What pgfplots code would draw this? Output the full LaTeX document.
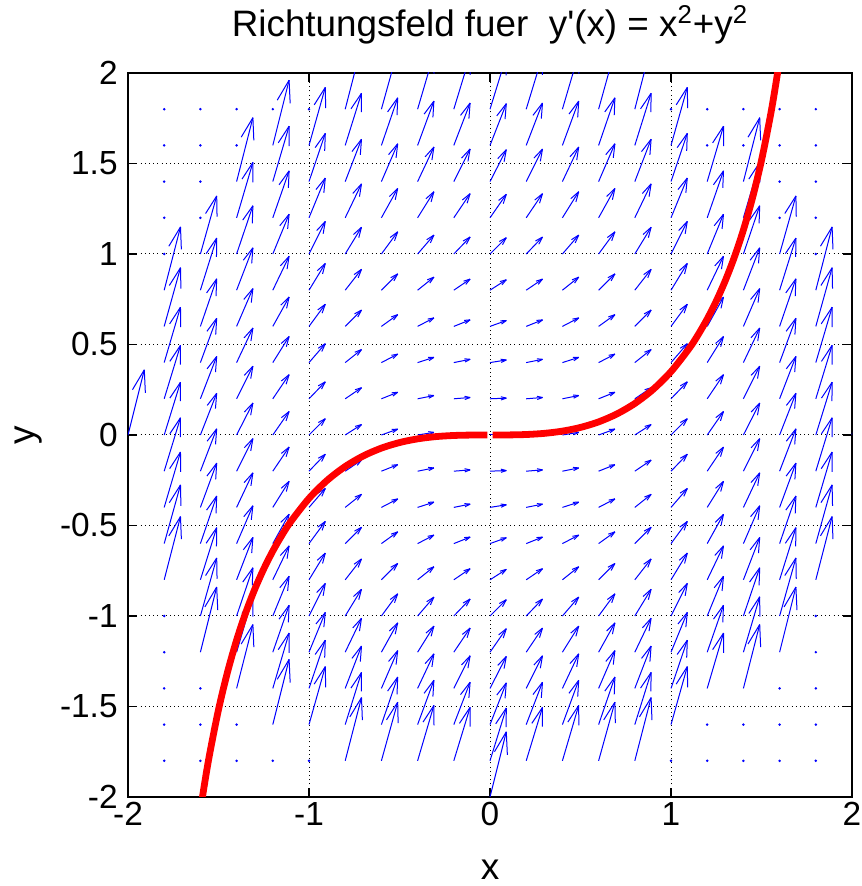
\documentclass[border=0pt]{standalone}
\usepackage{fontspec}
\setmainfont{Liberation Sans}
\usepackage{pgfplots}
\usepackage{pgfplotstable}
\pgfplotsset{compat=1.18}

% direction field: grid points (x,y) and slope f = y'(x) at that point
\pgfplotstableread[row sep=\\]{
x y f\\
-2 0 4\\
-1.8 -0.8 3.88\\ -1.8 -0.6 3.6\\ -1.8 -0.4 3.4\\ -1.8 -0.2 3.28\\ -1.8 0 3.24\\ -1.8 0.2 3.28\\ -1.8 0.4 3.4\\ -1.8 0.6 3.6\\ -1.8 0.8 3.88\\
-1.6 -1.2 4\\ -1.6 -1 3.56\\ -1.6 -0.8 3.2\\ -1.6 -0.6 2.92\\ -1.6 -0.4 2.72\\ -1.6 -0.2 2.6\\ -1.6 0 2.56\\ -1.6 0.2 2.6\\ -1.6 0.4 2.72\\ -1.6 0.6 2.92\\ -1.6 0.8 3.2\\ -1.6 1 3.56\\
-1.4 -1.4 3.92\\ -1.4 -1.2 3.4\\ -1.4 -1 2.96\\ -1.4 -0.8 2.6\\ -1.4 -0.6 2.32\\ -1.4 -0.4 2.12\\ -1.4 -0.2 2\\ -1.4 0 1.96\\ -1.4 0.2 2\\ -1.4 0.4 2.12\\ -1.4 0.6 2.32\\ -1.4 0.8 2.6\\ -1.4 1 2.96\\ -1.4 1.2 3.4\\ -1.4 1.4 3.92\\
-1.2 -1.6 4\\ -1.2 -1.4 3.4\\ -1.2 -1.2 2.88\\ -1.2 -1 2.44\\ -1.2 -0.8 2.08\\ -1.2 -0.6 1.8\\ -1.2 -0.4 1.6\\ -1.2 -0.2 1.48\\ -1.2 0 1.44\\ -1.2 0.2 1.48\\ -1.2 0.4 1.6\\ -1.2 0.6 1.8\\ -1.2 0.8 2.08\\ -1.2 1 2.44\\ -1.2 1.2 2.88\\ -1.2 1.4 3.4\\ -1.2 1.6 4\\
-1 -1.6 3.56\\ -1 -1.4 2.96\\ -1 -1.2 2.44\\ -1 -1 2\\ -1 -0.8 1.64\\ -1 -0.6 1.36\\ -1 -0.4 1.16\\ -1 -0.2 1.04\\ -1 0 1\\ -1 0.2 1.04\\ -1 0.4 1.16\\ -1 0.6 1.36\\ -1 0.8 1.64\\ -1 1 2\\ -1 1.2 2.44\\ -1 1.4 2.96\\ -1 1.6 3.56\\
-0.8 -1.8 3.88\\ -0.8 -1.6 3.2\\ -0.8 -1.4 2.6\\ -0.8 -1.2 2.08\\ -0.8 -1 1.64\\ -0.8 -0.8 1.28\\ -0.8 -0.6 1\\ -0.8 -0.4 0.8\\ -0.8 -0.2 0.68\\ -0.8 0 0.64\\ -0.8 0.2 0.68\\ -0.8 0.4 0.8\\ -0.8 0.6 1\\ -0.8 0.8 1.28\\ -0.8 1 1.64\\ -0.8 1.2 2.08\\ -0.8 1.4 2.6\\ -0.8 1.6 3.2\\ -0.8 1.8 3.88\\
-0.6 -1.8 3.6\\ -0.6 -1.6 2.92\\ -0.6 -1.4 2.32\\ -0.6 -1.2 1.8\\ -0.6 -1 1.36\\ -0.6 -0.8 1\\ -0.6 -0.6 0.72\\ -0.6 -0.4 0.52\\ -0.6 -0.2 0.4\\ -0.6 0 0.36\\ -0.6 0.2 0.4\\ -0.6 0.4 0.52\\ -0.6 0.6 0.72\\ -0.6 0.8 1\\ -0.6 1 1.36\\ -0.6 1.2 1.8\\ -0.6 1.4 2.32\\ -0.6 1.6 2.92\\ -0.6 1.8 3.6\\
-0.4 -1.8 3.4\\ -0.4 -1.6 2.72\\ -0.4 -1.4 2.12\\ -0.4 -1.2 1.6\\ -0.4 -1 1.16\\ -0.4 -0.8 0.8\\ -0.4 -0.6 0.52\\ -0.4 -0.4 0.32\\ -0.4 -0.2 0.2\\ -0.4 0 0.16\\ -0.4 0.2 0.2\\ -0.4 0.4 0.32\\ -0.4 0.6 0.52\\ -0.4 0.8 0.8\\ -0.4 1 1.16\\ -0.4 1.2 1.6\\ -0.4 1.4 2.12\\ -0.4 1.6 2.72\\ -0.4 1.8 3.4\\
-0.2 -1.8 3.28\\ -0.2 -1.6 2.6\\ -0.2 -1.4 2\\ -0.2 -1.2 1.48\\ -0.2 -1 1.04\\ -0.2 -0.8 0.68\\ -0.2 -0.6 0.4\\ -0.2 -0.4 0.2\\ -0.2 -0.2 0.08\\ -0.2 0 0.04\\ -0.2 0.2 0.08\\ -0.2 0.4 0.2\\ -0.2 0.6 0.4\\ -0.2 0.8 0.68\\ -0.2 1 1.04\\ -0.2 1.2 1.48\\ -0.2 1.4 2\\ -0.2 1.6 2.6\\ -0.2 1.8 3.28\\
0 -2 4\\ 0 -1.8 3.24\\ 0 -1.6 2.56\\ 0 -1.4 1.96\\ 0 -1.2 1.44\\ 0 -1 1\\ 0 -0.8 0.64\\ 0 -0.6 0.36\\ 0 -0.4 0.16\\ 0 -0.2 0.04\\ 0 0 0\\ 0 0.2 0.04\\ 0 0.4 0.16\\ 0 0.6 0.36\\ 0 0.8 0.64\\ 0 1 1\\ 0 1.2 1.44\\ 0 1.4 1.96\\ 0 1.6 2.56\\ 0 1.8 3.24\\
0.2 -1.8 3.28\\ 0.2 -1.6 2.6\\ 0.2 -1.4 2\\ 0.2 -1.2 1.48\\ 0.2 -1 1.04\\ 0.2 -0.8 0.68\\ 0.2 -0.6 0.4\\ 0.2 -0.4 0.2\\ 0.2 -0.2 0.08\\ 0.2 0 0.04\\ 0.2 0.2 0.08\\ 0.2 0.4 0.2\\ 0.2 0.6 0.4\\ 0.2 0.8 0.68\\ 0.2 1 1.04\\ 0.2 1.2 1.48\\ 0.2 1.4 2\\ 0.2 1.6 2.6\\ 0.2 1.8 3.28\\
0.4 -1.8 3.4\\ 0.4 -1.6 2.72\\ 0.4 -1.4 2.12\\ 0.4 -1.2 1.6\\ 0.4 -1 1.16\\ 0.4 -0.8 0.8\\ 0.4 -0.6 0.52\\ 0.4 -0.4 0.32\\ 0.4 -0.2 0.2\\ 0.4 0 0.16\\ 0.4 0.2 0.2\\ 0.4 0.4 0.32\\ 0.4 0.6 0.52\\ 0.4 0.8 0.8\\ 0.4 1 1.16\\ 0.4 1.2 1.6\\ 0.4 1.4 2.12\\ 0.4 1.6 2.72\\ 0.4 1.8 3.4\\
0.6 -1.8 3.6\\ 0.6 -1.6 2.92\\ 0.6 -1.4 2.32\\ 0.6 -1.2 1.8\\ 0.6 -1 1.36\\ 0.6 -0.8 1\\ 0.6 -0.6 0.72\\ 0.6 -0.4 0.52\\ 0.6 -0.2 0.4\\ 0.6 0 0.36\\ 0.6 0.2 0.4\\ 0.6 0.4 0.52\\ 0.6 0.6 0.72\\ 0.6 0.8 1\\ 0.6 1 1.36\\ 0.6 1.2 1.8\\ 0.6 1.4 2.32\\ 0.6 1.6 2.92\\ 0.6 1.8 3.6\\
0.8 -1.8 3.88\\ 0.8 -1.6 3.2\\ 0.8 -1.4 2.6\\ 0.8 -1.2 2.08\\ 0.8 -1 1.64\\ 0.8 -0.8 1.28\\ 0.8 -0.6 1\\ 0.8 -0.4 0.8\\ 0.8 -0.2 0.68\\ 0.8 0 0.64\\ 0.8 0.2 0.68\\ 0.8 0.4 0.8\\ 0.8 0.6 1\\ 0.8 0.8 1.28\\ 0.8 1 1.64\\ 0.8 1.2 2.08\\ 0.8 1.4 2.6\\ 0.8 1.6 3.2\\ 0.8 1.8 3.88\\
1 -1.6 3.56\\ 1 -1.4 2.96\\ 1 -1.2 2.44\\ 1 -1 2\\ 1 -0.8 1.64\\ 1 -0.6 1.36\\ 1 -0.4 1.16\\ 1 -0.2 1.04\\ 1 0 1\\ 1 0.2 1.04\\ 1 0.4 1.16\\ 1 0.6 1.36\\ 1 0.8 1.64\\ 1 1 2\\ 1 1.2 2.44\\ 1 1.4 2.96\\ 1 1.6 3.56\\
1.2 -1.4 3.4\\ 1.2 -1.2 2.88\\ 1.2 -1 2.44\\ 1.2 -0.8 2.08\\ 1.2 -0.6 1.8\\ 1.2 -0.4 1.6\\ 1.2 -0.2 1.48\\ 1.2 0 1.44\\ 1.2 0.2 1.48\\ 1.2 0.4 1.6\\ 1.2 0.6 1.8\\ 1.2 0.8 2.08\\ 1.2 1 2.44\\ 1.2 1.2 2.88\\ 1.2 1.4 3.4\\
1.4 -1.4 3.92\\ 1.4 -1.2 3.4\\ 1.4 -1 2.96\\ 1.4 -0.8 2.6\\ 1.4 -0.6 2.32\\ 1.4 -0.4 2.12\\ 1.4 -0.2 2\\ 1.4 0 1.96\\ 1.4 0.2 2\\ 1.4 0.4 2.12\\ 1.4 0.6 2.32\\ 1.4 0.8 2.6\\ 1.4 1 2.96\\ 1.4 1.2 3.4\\ 1.4 1.4 3.92\\
1.6 -1.2 4\\ 1.6 -1 3.56\\ 1.6 -0.8 3.2\\ 1.6 -0.6 2.92\\ 1.6 -0.4 2.72\\ 1.6 -0.2 2.6\\ 1.6 0 2.56\\ 1.6 0.2 2.6\\ 1.6 0.4 2.72\\ 1.6 0.6 2.92\\ 1.6 0.8 3.2\\ 1.6 1 3.56\\
1.8 -0.8 3.88\\ 1.8 -0.6 3.6\\ 1.8 -0.4 3.4\\ 1.8 -0.2 3.28\\ 1.8 0 3.24\\ 1.8 0.2 3.28\\ 1.8 0.4 3.4\\ 1.8 0.6 3.6\\ 1.8 0.8 3.88\\
2 0 4\\
}\fieldtab

% grid points where the field vector is zero (drawn as dots)
\pgfplotstableread[row sep=\\]{
x y\\
-1.8 -1.8\\ -1.8 -1.6\\ -1.8 -1.4\\ -1.8 -1.2\\ -1.8 -1\\ -1.8 1\\ -1.8 1.2\\ -1.8 1.4\\ -1.8 1.6\\ -1.8 1.8\\
-1.6 -1.8\\ -1.6 -1.6\\ -1.6 -1.4\\ -1.6 1.2\\ -1.6 1.4\\ -1.6 1.6\\ -1.6 1.8\\
-1.4 -1.8\\ -1.4 -1.6\\ -1.4 1.6\\ -1.4 1.8\\
-1.2 -1.8\\ -1.2 1.8\\
-1 -1.8\\ -1 1.8\\
1 -1.8\\ 1 1.8\\
1.2 -1.8\\ 1.2 -1.6\\ 1.2 1.6\\ 1.2 1.8\\
1.4 -1.8\\ 1.4 -1.6\\ 1.4 1.6\\ 1.4 1.8\\
1.6 -1.8\\ 1.6 -1.6\\ 1.6 -1.4\\ 1.6 1.2\\ 1.6 1.4\\ 1.6 1.6\\ 1.6 1.8\\
1.8 -1.8\\ 1.8 -1.6\\ 1.8 -1.4\\ 1.8 -1.2\\ 1.8 -1\\ 1.8 1\\ 1.8 1.2\\ 1.8 1.4\\ 1.8 1.6\\ 1.8 1.8\\
}\dottab

\begin{document}
\begin{tikzpicture}
\begin{axis}[
  name=ax, at={(0,0)}, anchor=south west,
  width=362pt, height=362pt, scale only axis,
  xmin=-2, xmax=2, ymin=-2, ymax=2,
  xtick={-2,-1,0,1,2}, ytick={-2,-1.5,-1,-0.5,0,0.5,1,1.5,2},
  xticklabels={-2,-1,0,1,2},
  yticklabels={-2,-1.5,-1,-0.5,0,0.5,1,1.5,2},
  tick align=inside, major tick length=4.5pt,
  xtick pos=both, ytick pos=both,
  grid=major,
  grid style={black, line width=0.5pt, dash pattern=on 0.5pt off 1.6pt},
  axis line style={black, line width=0.8pt},
  every tick/.style={black, line width=0.8pt},
  tick label style={font=\fontsize{16.7}{19}\selectfont},
  xticklabel style={inner sep=0pt, anchor=north, yshift=-2.5pt},
  yticklabel style={inner sep=0pt, anchor=east, xshift=-5pt},
  title={Richtungsfeld fuer\ \ y\textquotesingle(x) = x\textsuperscript{2}+y\textsuperscript{2}},
  title style={at={(axis description cs:0.5,1.0345)}, anchor=base, inner sep=0pt, font=\fontsize{18.4}{21}\selectfont},
  xlabel={x}, ylabel={y},
  xlabel style={at={(axis description cs:0.5,-0.1146)}, anchor=base, inner sep=0pt, font=\fontsize{18.5}{21}\selectfont},
  ylabel style={at={(axis description cs:-0.1285,0.5)}, anchor=base, inner sep=0pt, font=\fontsize{18.5}{21}\selectfont},
  clip=true,
]
% shafts
\addplot[blue, line width=0.5pt, quiver={u=0.09, v={0.09*\thisrow{f}}}]
  table[x=x, y=y] {\fieldtab};
% arrow head barbs (scaled with the vector, like MATLAB quiver)
\addplot[blue, line width=0.5pt,
  quiver={u={-0.0297*(1+0.3*\thisrow{f})}, v={-0.0297*(\thisrow{f}-0.3)}}]
  table[x expr={\thisrow{x}+0.09}, y expr={\thisrow{y}+0.09*\thisrow{f}}] {\fieldtab};
\addplot[blue, line width=0.5pt,
  quiver={u={-0.0297*(1-0.3*\thisrow{f})}, v={-0.0297*(\thisrow{f}+0.3)}}]
  table[x expr={\thisrow{x}+0.09}, y expr={\thisrow{y}+0.09*\thisrow{f}}] {\fieldtab};
% zero vectors
\addplot[only marks, blue, mark=*, mark size=0.4pt] table[x=x, y=y] {\dottab};
% solution through (0,0)
\addplot[red, line width=3.4pt, smooth] coordinates {
(0.015,0) (0.1,0.000333) (0.2,0.002667) (0.3,0.009003) (0.4,0.021359) (0.5,0.041791)
(0.6,0.072448) (0.7,0.115660) (0.8,0.174080) (0.9,0.250907) (1.0,0.350232) (1.1,0.477617)
(1.15,0.554201) (1.2,0.641074) (1.25,0.739926) (1.3,0.852878) (1.35,0.982716) (1.4,1.133110)
(1.45,1.309045) (1.5,1.517444) (1.55,1.768277) (1.58,1.945043) (1.6,2.076410)};
\addplot[red, line width=3.4pt, smooth] coordinates {
(-0.015,0) (-0.1,-0.000333) (-0.2,-0.002667) (-0.3,-0.009003) (-0.4,-0.021359) (-0.5,-0.041791)
(-0.6,-0.072448) (-0.7,-0.115660) (-0.8,-0.174080) (-0.9,-0.250907) (-1.0,-0.350232) (-1.1,-0.477617)
(-1.15,-0.554201) (-1.2,-0.641074) (-1.25,-0.739926) (-1.3,-0.852878) (-1.35,-0.982716) (-1.4,-1.133110)
(-1.45,-1.309045) (-1.5,-1.517444) (-1.55,-1.768277) (-1.58,-1.945043) (-1.6,-2.076410)};
\end{axis}
\pgfresetboundingbox
\path[use as bounding box] (-64pt,-44.5pt) rectangle (366.5pt,398.5pt);
\end{tikzpicture}
\end{document}
